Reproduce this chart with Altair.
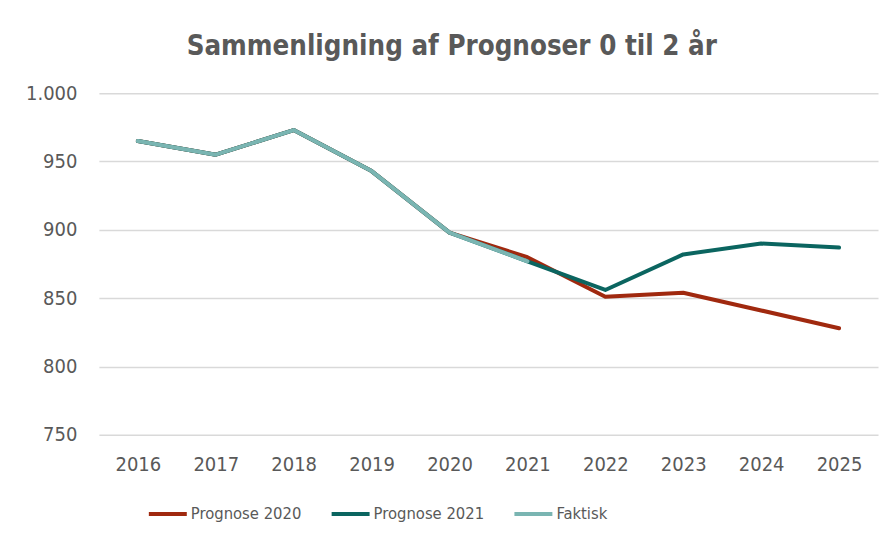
import altair as alt
import pandas as pd

years = [str(y) for y in range(2016, 2026)]
faktisk = [965, 955, 973, 943, 898, 877, None, None, None, None]
prognose_2020 = [965, 955, 973, 943, 898, 880, 851, 854, 841, 828]
prognose_2021 = [965, 955, 973, 943, 898, 877, 856, 882, 890, 887]

series = ["Prognose 2020", "Prognose 2021", "Faktisk"]
colors = ["#A0290F", "#0B6560", "#7AB5B2"]

rows = []
for name, vals in zip(series, [prognose_2020, prognose_2021, faktisk]):
    for yr, v in zip(years, vals):
        if v is not None:
            rows.append({"År": yr, "Værdi": v, "Serie": name, "order": series.index(name)})
df = pd.DataFrame(rows)

FONT = "DejaVu Sans Condensed"

chart = alt.Chart(df).mark_line(strokeWidth=4, strokeCap="round", strokeJoin="round").encode(
    x=alt.X("År:O", sort=years, title=None,
            scale=alt.Scale(padding=0.5),
            axis=alt.Axis(labelAngle=0, domain=False, ticks=False, grid=False,
                          labelFontSize=20, labelColor="#595959", labelFont=FONT,
                          labelPadding=20)),
    y=alt.Y("Værdi:Q", title=None,
            scale=alt.Scale(domain=[750, 1000], nice=False, zero=False),
            axis=alt.Axis(values=[750, 800, 850, 900, 950, 1000], domain=False, ticks=False,
                          gridColor="#D9D9D9", gridWidth=1.5,
                          labelExpr="replace(format(datum.value, ','), ',', '.')",
                          labelFontSize=20, labelColor="#595959", labelFont=FONT,
                          labelPadding=22)),
    color=alt.Color("Serie:N", sort=series,
                    scale=alt.Scale(domain=series, range=colors),
                    legend=alt.Legend(title=None, orient="none", direction="horizontal",
                                      legendX=48, legendY=400,
                                      symbolType="stroke", symbolStrokeWidth=4, symbolSize=1444,
                                      labelFontSize=16.5, labelColor="#595959", labelFont=FONT,
                                      columnPadding=22, labelOffset=2)),
    order=alt.Order("order:Q"),
    detail="Serie:N",
).properties(
    width=780,
    height=342,
    background="white",
    title=alt.TitleParams("Sammenligning af Prognoser 0 til 2 år", fontSize=27.5, font=FONT,
                          fontWeight="bold", color="#595959", offset=23, anchor="middle",
                          frame="bounds"),
    padding={"left": 17, "top": 24, "right": 10, "bottom": 10},
).configure_view(stroke=None, strokeWidth=0)

chart.save("out.html", embed_options={"renderer": "svg", "actions": False})
